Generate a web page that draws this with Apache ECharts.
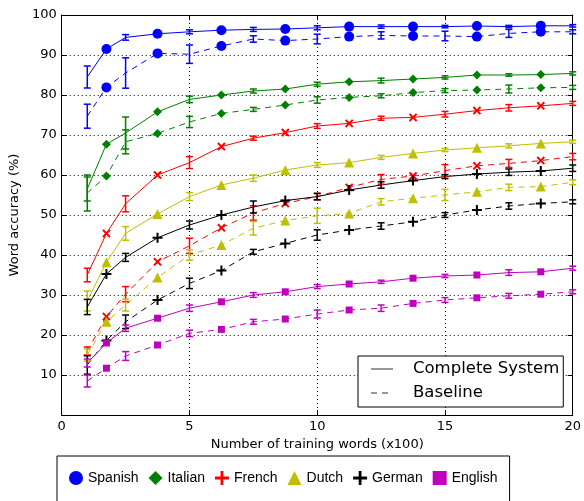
<!DOCTYPE html>
<html>
<head>
<meta charset="utf-8">
<script src="https://cdn.jsdelivr.net/npm/echarts@6/dist/echarts.min.js"></script>
<style>
  html, body { margin: 0; padding: 0; background: #fff; }
  #chart { width: 584px; height: 501px; }
</style>
</head>
<body>
<div id="chart"></div>
<script>
// x positions (hundreds of training words)
const xs = [1, 1.75, 2.5, 3.75, 5, 6.25, 7.5, 8.75, 10, 11.25, 12.5, 13.75, 15, 16.25, 17.5, 18.75, 20];

// word accuracy (%) - complete system / baseline
const spanishFull = [84.5, 91.5, 94.4, 95.3, 95.8, 96.2, 96.4, 96.5, 96.8, 97.1, 97.1, 97.1, 97.1, 97.25, 97.1, 97.3, 97.3];
const spanishBase = [74.7, 81.9, 85.5, 90.4, 90.2, 92.25, 94.0, 93.6, 94.0, 94.6, 94.9, 94.75, 94.75, 94.6, 95.4, 95.8, 95.8];
const italianFull = [56.5, 67.7, 70.5, 75.8, 78.9, 80, 81, 81.5, 82.7, 83.3, 83.6, 84, 84.4, 85, 85, 85.1, 85.4];
const italianBase = [55.5, 59.75, 68.3, 70.4, 73.25, 75.4, 76.4, 77.5, 78.75, 79.4, 79.8, 80.6, 81.1, 81.25, 81.5, 81.8, 81.9];
const frenchFull = [35, 45.4, 52.8, 60, 63.1, 67.1, 69.2, 70.6, 72.25, 72.9, 74.2, 74.4, 75.2, 76.1, 76.8, 77.3, 77.9];
const frenchBase = [16, 24.6, 30.2, 38.3, 42.3, 46.8, 50.5, 52.9, 54.6, 56.9, 58.9, 59.75, 61.1, 62.3, 62.9, 63.6, 64.6];
const dutchFull = [28.5, 38.2, 45.4, 50.25, 54.6, 57.5, 59.2, 61.25, 62.5, 63.1, 64.4, 65.4, 66.25, 66.8, 67.3, 67.9, 68.3];
const dutchBase = [15, 23.3, 27.5, 34.4, 40, 42.5, 46.7, 48.6, 49.8, 50.4, 53.3, 54.2, 55, 55.8, 56.9, 57.1, 58.2];
const germanFull = [27, 35.25, 39.4, 44.3, 47.5, 50, 52, 53.6, 54.6, 56.25, 57.5, 58.6, 59.6, 60.25, 60.7, 61, 61.7];
const germanBase = [12.5, 18.6, 23.3, 28.75, 32.9, 36.1, 40.8, 42.9, 45, 46.25, 47.25, 48.3, 50, 51.25, 52.25, 52.9, 53.3];
const englishFull = [13, 18, 21.7, 24.2, 26.7, 28.3, 30, 30.8, 32.1, 32.75, 33.3, 34.2, 34.75, 35, 35.6, 35.8, 36.7];
const englishBase = [8.5, 11.7, 14.75, 17.5, 20.4, 21.4, 23.3, 24, 25.25, 26.25, 26.7, 27.9, 28.75, 29.3, 29.8, 30.2, 30.8];

// half error at x = 1, 2.5, 5, 7.5, ... 20 (every other point)
const spanishFullErr = [2.75, 0.7, 0.5, 0.5, 0.5, 0.4, 0.3, 0.3, 0.3];
const spanishBaseErr = [3, 3.8, 2.3, 0.8, 1.2, 0.9, 1.2, 1, 0.5];
const italianFullErr = [3, 4, 0.8, 0.5, 0.5, 0.6, 0.4, 0.3, 0.4];
const italianBaseErr = [4.5, 3, 1.4, 0.5, 0.8, 0.5, 0.5, 1, 0.5];
const frenchFullErr = [1.7, 2, 1.5, 0.5, 0.6, 0.5, 0.7, 0.8, 0.5];
const frenchBaseErr = [1, 1.9, 1.9, 1.8, 0.8, 1.2, 1.5, 1, 0.8];
const dutchFullErr = [2.5, 1.7, 1, 0.8, 0.6, 0.5, 0.4, 0.5, 0.4];
const dutchBaseErr = [1.5, 1.5, 1.3, 1.7, 1.9, 0.8, 1.4, 0.8, 0.6];
const germanFullErr = [1.9, 1, 1, 1.5, 0.8, 0.8, 0.5, 0.8, 0.8];
const germanBaseErr = [2.3, 1.7, 1.3, 0.6, 1.3, 0.8, 0.6, 0.8, 0.5];
const englishFullErr = [1, 0.8, 0.8, 0.6, 0.5, 0.4, 0.4, 0.7, 0.5];
const englishBaseErr = [1.5, 1.1, 0.8, 0.6, 1, 0.8, 0.6, 0.6, 0.5];

const PLUS = 'path://M4,0H6V4H10V6H6V10H4V6H0V4H4Z';

const langs = [
  { name: 'Spanish', color: '#0000ff', symbol: 'circle', size: 10, full: spanishFull, base: spanishBase, fullErr: spanishFullErr, baseErr: spanishBaseErr },
  { name: 'Italian', color: '#008000', symbol: 'diamond', size: 9, full: italianFull, base: italianBase, fullErr: italianFullErr, baseErr: italianBaseErr },
  { name: 'French', color: '#ff0000', symbol: PLUS, rotate: 45, size: 10, full: frenchFull, base: frenchBase, fullErr: frenchFullErr, baseErr: frenchBaseErr },
  { name: 'Dutch', color: '#bfbf00', symbol: 'triangle', size: 10, full: dutchFull, base: dutchBase, fullErr: dutchFullErr, baseErr: dutchBaseErr },
  { name: 'German', color: '#000000', symbol: PLUS, size: 10, full: germanFull, base: germanBase, fullErr: germanFullErr, baseErr: germanBaseErr },
  { name: 'English', color: '#bf00bf', symbol: 'rect', size: 7, full: englishFull, base: englishBase, fullErr: englishFullErr, baseErr: englishBaseErr }
];

const chart = echarts.init(document.getElementById('chart'));
const font = 'DejaVu Sans';

function errorBars(color, vals, errs) {
  const data = [];
  vals.forEach((v, i) => {
    if (i % 2 === 0) {
      const e = errs[i / 2];
      data.push([xs[i], v - e, v + e]);
    }
  });
  return {
    type: 'custom',
    silent: true,
    z: 3,
    renderItem: function (params, api) {
      const lo = api.coord([api.value(0), api.value(1)]);
      const hi = api.coord([api.value(0), api.value(2)]);
      const w = 3.5;
      const st = { stroke: color, lineWidth: 1.5 };
      return {
        type: 'group',
        children: [
          { type: 'line', shape: { x1: lo[0], y1: lo[1], x2: hi[0], y2: hi[1] }, style: st },
          { type: 'line', shape: { x1: lo[0] - w, y1: lo[1], x2: lo[0] + w, y2: lo[1] }, style: st },
          { type: 'line', shape: { x1: hi[0] - w, y1: hi[1], x2: hi[0] + w, y2: hi[1] }, style: st }
        ]
      };
    },
    encode: { x: 0, y: [1, 2] },
    data: data
  };
}

const series = [];
langs.forEach(l => {
  [['full', 'solid'], ['base', [6, 5]]].forEach(([key, dash]) => {
    const vals = l[key];
    series.push({
      type: 'line',
      silent: true,
      symbol: 'none',
      z: 2,
      lineStyle: { color: l.color, width: 1, type: dash },
      data: xs.map((x, i) => [x, vals[i]])
    });
    series.push(errorBars(l.color, vals, l[key + 'Err']));
    series.push({
      name: l.name,
      type: 'scatter',
      silent: true,
      z: 4,
      symbol: l.symbol,
      symbolSize: l.size,
      symbolRotate: l.rotate || 0,
      itemStyle: { color: l.color, opacity: 1 },
      data: xs.map((x, i) => [x, vals[i]]).filter((d, i) => i % 2 === 1)
    });
  });
});

// style keys for the inner legend
series.push({ name: 'Complete System', type: 'line', symbol: 'none', itemStyle: { color: '#999' }, lineStyle: { color: '#999', width: 1.2 }, data: [] });
series.push({ name: 'Baseline', type: 'line', symbol: 'none', itemStyle: { color: '#999' }, lineStyle: { color: '#999', width: 1.2, type: [6, 5] }, data: [] });

const axisCommon = {
  type: 'value',
  axisLine: { show: true, onZero: false, lineStyle: { color: '#000', width: 1 } },
  axisTick: { show: true, inside: true, length: 5, lineStyle: { color: '#000' } }
};

const option = {
  animation: false,
  backgroundColor: '#fff',
  grid: { left: 57, right: 11, top: 15, bottom: 86 },
  legend: [{
    data: langs.map(l => l.name),
    left: 57,
    top: 456,
    padding: [15, 12, 18, 12],
    itemGap: 10,
    itemWidth: 14,
    itemHeight: 14,
    borderColor: '#000',
    borderWidth: 1,
    selectedMode: false,
    textStyle: { fontFamily: 'Liberation Sans', fontSize: 14, color: '#000' }
  }, {
    data: ['Complete System', 'Baseline'],
    orient: 'vertical',
    left: 358,
    top: 356,
    padding: [3, 4, 4, 12],
    itemGap: 4,
    itemWidth: 22,
    itemHeight: 14,
    borderColor: '#000',
    borderWidth: 1,
    backgroundColor: '#fff',
    selectedMode: false,
    itemStyle: { opacity: 0 },
    textStyle: { fontFamily: font, fontSize: 16.5, color: '#000', lineHeight: 20, padding: [0, 0, 0, 15] }
  }],
  xAxis: [Object.assign({}, axisCommon, {
    position: 'bottom',
    min: 0, max: 20, interval: 5,
    name: 'Number of training words (x100)',
    nameLocation: 'middle',
    nameGap: 22,
    nameTextStyle: { fontFamily: font, fontSize: 13, color: '#000' },
    axisLabel: { fontFamily: font, fontSize: 13, color: '#000', margin: 5 },
    splitLine: { show: true, lineStyle: { color: '#000', type: [1, 3], width: 1 } }
  }), Object.assign({}, axisCommon, {
    position: 'top',
    min: 0, max: 20, interval: 5,
    axisLabel: { show: false },
    splitLine: { show: false }
  })],
  yAxis: [Object.assign({}, axisCommon, {
    position: 'left',
    min: 0, max: 100, interval: 10,
    name: 'Word accuracy (%)',
    nameLocation: 'middle',
    nameGap: 33,
    nameTextStyle: { fontFamily: font, fontSize: 13, color: '#000' },
    axisLabel: { fontFamily: font, fontSize: 13, color: '#000', margin: 5,
      formatter: v => (v === 0 ? '' : v) },
    splitLine: { show: true, lineStyle: { color: '#000', type: [1, 3], width: 1 } }
  }), Object.assign({}, axisCommon, {
    position: 'right',
    min: 0, max: 100, interval: 10,
    axisLabel: { show: false },
    splitLine: { show: false }
  })],
  series: series
};

chart.setOption(option);
</script>
</body>
</html>
